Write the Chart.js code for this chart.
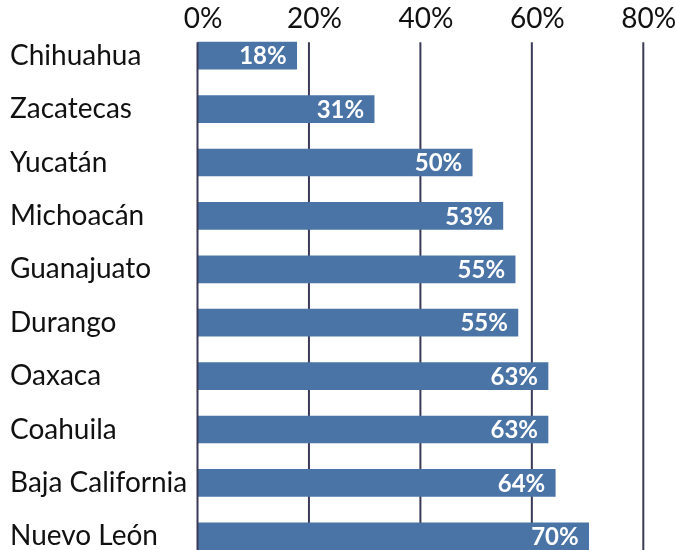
<!DOCTYPE html>
<html>
<head>
<meta charset="utf-8">
<script src="https://cdn.jsdelivr.net/npm/chart.js@4"></script>
<style>
  html, body { margin: 0; padding: 0; background: #fff; overflow: hidden; height: 550px; }
  canvas { display: block; }
</style>
</head>
<body>
<canvas id="chart" width="675" height="563"></canvas>
<script>
// Data
const states = ['Chihuahua', 'Zacatecas', 'Yucatán', 'Michoacán', 'Guanajuato', 'Durango', 'Oaxaca', 'Coahuila', 'Baja California', 'Nuevo León'];
const barValues = [17.8, 31.7, 49.3, 54.8, 57.0, 57.5, 62.9, 62.9, 64.2, 70.2];
const valueLabels = ['18%', '31%', '50%', '53%', '55%', '55%', '63%', '63%', '64%', '70%'];
const xTicks = [0, 20, 40, 60, 80];

const barColor = '#4a74a6';
const gridColor = '#3a3a58';
const fontFamily = 'Lato, "Open Sans", sans-serif';

// Grid lines start at the first bar's top, value labels inside the bar ends
const gridAndLabels = {
    id: 'gridAndLabels',
    beforeDatasetsDraw(chart) {
        const ctx = chart.ctx;
        const xs = chart.scales.x;
        const first = chart.getDatasetMeta(0).data[0];
        const top = first.y - first.height / 2;
        ctx.save();
        ctx.strokeStyle = gridColor;
        ctx.lineWidth = 2;
        xTicks.forEach(v => {
            if (v === 0) return;
            const px = xs.getPixelForValue(v);
            ctx.beginPath();
            ctx.moveTo(px, top);
            ctx.lineTo(px, chart.height);
            ctx.stroke();
        });
        ctx.restore();
    },
    afterDatasetsDraw(chart) {
        const ctx = chart.ctx;
        const xs = chart.scales.x;
        const meta = chart.getDatasetMeta(0);
        const first = meta.data[0];
        const top = first.y - first.height / 2;
        ctx.save();
        // zero line over the bars
        ctx.strokeStyle = gridColor;
        ctx.lineWidth = 2;
        const px0 = xs.getPixelForValue(0);
        ctx.beginPath();
        ctx.moveTo(px0, top);
        ctx.lineTo(px0, chart.height);
        ctx.stroke();

        ctx.fillStyle = '#ffffff';
        ctx.font = 'bold 24px ' + fontFamily;
        ctx.textAlign = 'right';
        ctx.textBaseline = 'middle';
        meta.data.forEach((bar, i) => {
            ctx.fillText(valueLabels[i], bar.x - 10, bar.y + 1);
        });
        ctx.restore();
    }
};

new Chart(document.getElementById('chart'), {
    type: 'bar',
    data: {
        labels: states,
        datasets: [{
            data: barValues,
            backgroundColor: barColor,
            borderWidth: 0,
            barThickness: 27
        }]
    },
    options: {
        indexAxis: 'y',
        responsive: false,
        animation: false,
        layout: { padding: { left: 10, right: 31.7, top: 0, bottom: 0 } },
        scales: {
            x: {
                position: 'top',
                min: 0,
                max: 80,
                afterBuildTicks: (scale) => { scale.ticks = xTicks.map(v => ({ value: v })); },
                afterFit: (scale) => { scale.height = 29; },
                grid: { display: false, drawTicks: false },
                border: { display: false },
                ticks: {
                    color: '#111111',
                    font: { family: fontFamily, size: 28 },
                    padding: -7,
                    labelOffset: 5.5,
                    maxRotation: 0,
                    autoSkip: false,
                    callback: (v) => v + '%'
                }
            },
            y: {
                afterFit: (scale) => {
                    scale.width = 187.5;
                    scale.paddingTop = 0;
                    scale.paddingBottom = 0;
                },
                grid: { display: false, drawTicks: false },
                border: { display: false },
                ticks: {
                    color: '#111111',
                    crossAlign: 'far',
                    font: { family: fontFamily, size: 28 },
                    autoSkip: false
                }
            }
        },
        plugins: {
            legend: { display: false },
            tooltip: { enabled: false }
        }
    },
    plugins: [gridAndLabels]
});
</script>
</body>
</html>
